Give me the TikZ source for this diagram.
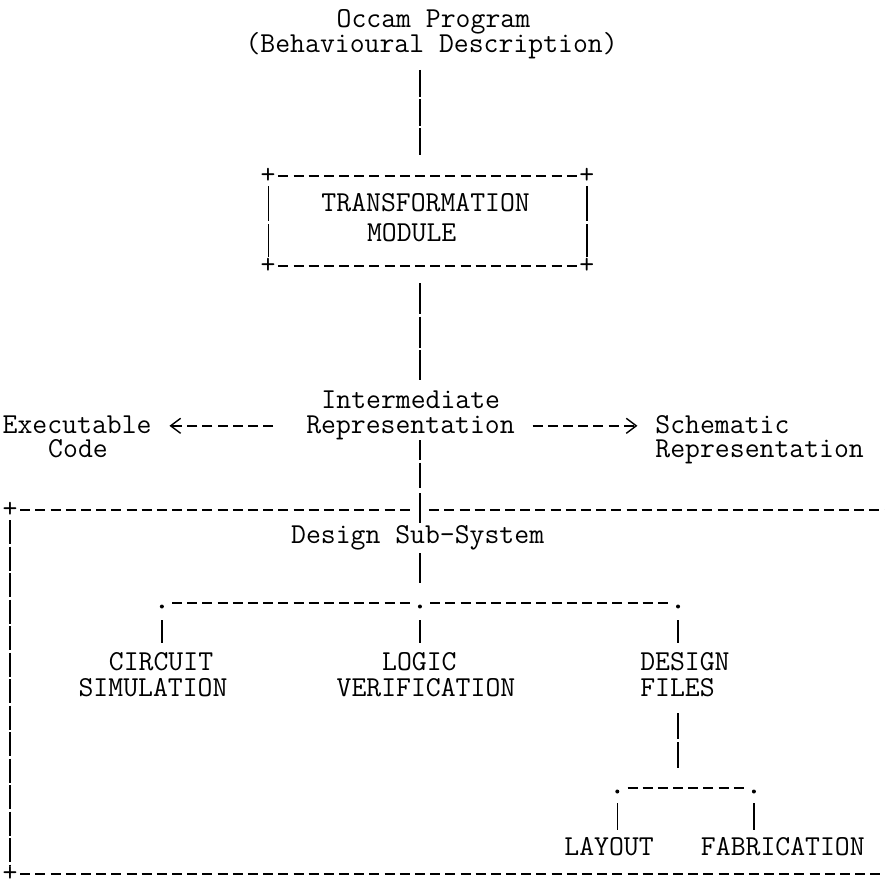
\documentclass[tikz,border=0pt]{standalone}
\usepackage{fontspec}
\setmonofont{Latin Modern Mono}
\usetikzlibrary{arrows.meta,calc}
\begin{document}
\begin{tikzpicture}[x=1pt,y=-1pt,
  txt/.style={font=\ttfamily\fontsize{28.9}{30}\selectfont, inner sep=0pt, anchor=base west},
  glyph/.style={font=\ttfamily\fontsize{28.9}{30}\selectfont, inner sep=0pt},
  hyph/.style={line width=1.4pt, dash pattern=on 10pt off 5.18pt},
  vbar/.style={line width=1.3pt},
  junct/.style={circle, fill, inner sep=0pt, minimum size=4pt},
  tipl/.style={-{Straight Barb[length=10pt,width=15pt,line width=1.4pt]}},
]
\def\cw{15.18}
\def\ox{2.5}
\useasboundingbox (0,0) rectangle (885,880);
\fill[white] (0,0) rectangle (885,880);

% column of the main spine
\coordinate (sp) at ({\ox+\cw*27.5},0);

% labels
\node[txt] (occam)  at ({\ox+\cw*22},28)  {Occam Program};
\node[txt] (behav)  at ({\ox+\cw*16},53)  {(Behavioural Description)};
\node[txt] (trans)  at ({\ox+\cw*21},211) {TRANSFORMATION};
\node[txt] (module) at ({\ox+\cw*24},241) {MODULE};
\node[txt] (inter)  at ({\ox+\cw*21},408) {Intermediate};
\node[txt] (repr)   at ({\ox+\cw*20},433) {Representation};
\node[txt] (exec)   at ({\ox+\cw*0},433)  {Executable};
\node[txt] (code)   at ({\ox+\cw*3},457)  {Code};
\node[txt] (schem)  at ({\ox+\cw*43},433) {Schematic};
\node[txt] (srepr)  at ({\ox+\cw*43},457) {Representation};
\node[txt] (design) at ({\ox+\cw*19},543) {Design Sub-System};
\node[txt] (circ)   at ({\ox+\cw*7},670)  {CIRCUIT};
\node[txt] (simul)  at ({\ox+\cw*5},696)  {SIMULATION};
\node[txt] (logic)  at ({\ox+\cw*25},670) {LOGIC};
\node[txt] (verif)  at ({\ox+\cw*22},696) {VERIFICATION};
\node[txt] (dfile)  at ({\ox+\cw*42},670) {DESIGN};
\node[txt] (files)  at ({\ox+\cw*42},696) {FILES};
\node[txt] (layout) at ({\ox+\cw*37},855) {LAYOUT};
\node[txt] (fab)    at ({\ox+\cw*46},855) {FABRICATION};

% box corners
\node[glyph] (btl) at ({\ox+\cw*17.5},176) {+};
\node[glyph] (btr) at ({\ox+\cw*38.5},176) {+};
\node[glyph] (bbl) at ({\ox+\cw*17.5},266) {+};
\node[glyph] (bbr) at ({\ox+\cw*38.5},266) {+};
% frame corners
\node[glyph] (ftl) at ({\ox+\cw*0.5},510) {+};
\node[glyph] (fbl) at ({\ox+\cw*0.5},874) {+};
\coordinate (ftr) at (885,510);
\coordinate (fbr) at (885,874);

% junction dots
\node[junct] (j1) at ({\ox+\cw*10.5},606.5) {};
\node[junct] (j2) at ({\ox+\cw*27.5},606.5) {};
\node[junct] (j3) at ({\ox+\cw*44.5},606.5) {};
\node[junct] (k1) at ({\ox+\cw*40.5},791.5) {};
\node[junct] (k2) at ({\ox+\cw*49.5},791.5) {};

% transformation box
\draw[hyph] ([xshift=10.2pt]btl.center) -- ([xshift=-7.6pt]btr.center);
\draw[hyph] ([xshift=10.2pt]bbl.center) -- ([xshift=-7.6pt]bbr.center);
\draw[vbar, dash pattern=on 35pt off 3pt] ($(btl)+(0,10)$) -- ($(bbl)+(0,-9)$);
\draw[vbar, dash pattern=on 35pt off 3pt] ($(btr)+(0,10)$) -- ($(bbr)+(0,-9)$);

% main spine
\draw[vbar, dash pattern=on 27pt off 2pt] ($(sp |- behav.base)+(0,17)$) -- ($(sp |- btl)+(0,-19)$);
\draw[vbar, dash pattern=on 31pt off 2.5pt] ($(sp |- bbl)+(0,17)$) -- ($(sp |- inter.base)+(0,-28)$);
\draw[vbar, dash pattern=on 20pt off 2.5pt on 25.5pt off 5pt on 30pt off 50pt]
  ($(sp |- repr.base)+(0,7)$) -- ($(sp |- design.base)+(0,-20)$);
\draw[vbar] ($(sp |- design.base)+(0,10)$) -- ($(j2)+(0,-24)$);

% side branches
\draw[hyph, tipl] ($(repr.base west)+(-32.9,-7.2)$) -- ($(exec.base east)+(17.7,-7.2)$);
\draw[hyph, tipl] ($(repr.base east)+(17.8,-7.2)$) -- ($(schem.base west)+(-17.8,-7.2)$);

% design sub-system frame
\draw[hyph] ([xshift=10.2pt]ftl.center) -- ($(sp |- ftl)+(-7.6,0)$);
\draw[hyph] ($(sp |- ftl)+(9.2,0)$) -- (ftr);
\draw[hyph] ([xshift=10.2pt]fbl.center) -- (fbr);
\draw[vbar, dash pattern=on 24pt off 2.5pt] ($(ftl)+(0,10)$) -- ($(fbl)+(0,-8)$);

% first level split
\draw[hyph] ($(j1)+(10.2,-3.5)$) -- ($(j2)+(-7.6,-3.5)$);
\draw[hyph] ($(j2)+(10.2,-3.5)$) -- ($(j3)+(-7.6,-3.5)$);
\draw[vbar] ($(j1)+(0,13.5)$) -- ($(j1 |- circ.base)+(0,-27)$);
\draw[vbar] ($(j2)+(0,13.5)$) -- ($(j2 |- logic.base)+(0,-27)$);
\draw[vbar] ($(j3)+(0,13.5)$) -- ($(j3 |- dfile.base)+(0,-27)$);

% design files split
\draw[vbar, dash pattern=on 26pt off 3pt] ($(j3 |- files.base)+(0,17)$) -- ($(j3 |- k1)+(0,-23.5)$);
\draw[hyph] ($(k1)+(10.2,-3.5)$) -- ($(k2)+(-7.6,-3.5)$);
\draw[vbar] ($(k1)+(0,11.5)$) -- ($(k1 |- layout.base)+(0,-25)$);
\draw[vbar] ($(k2)+(0,11.5)$) -- ($(k2 |- fab.base)+(0,-25)$);
\end{tikzpicture}
\end{document}
